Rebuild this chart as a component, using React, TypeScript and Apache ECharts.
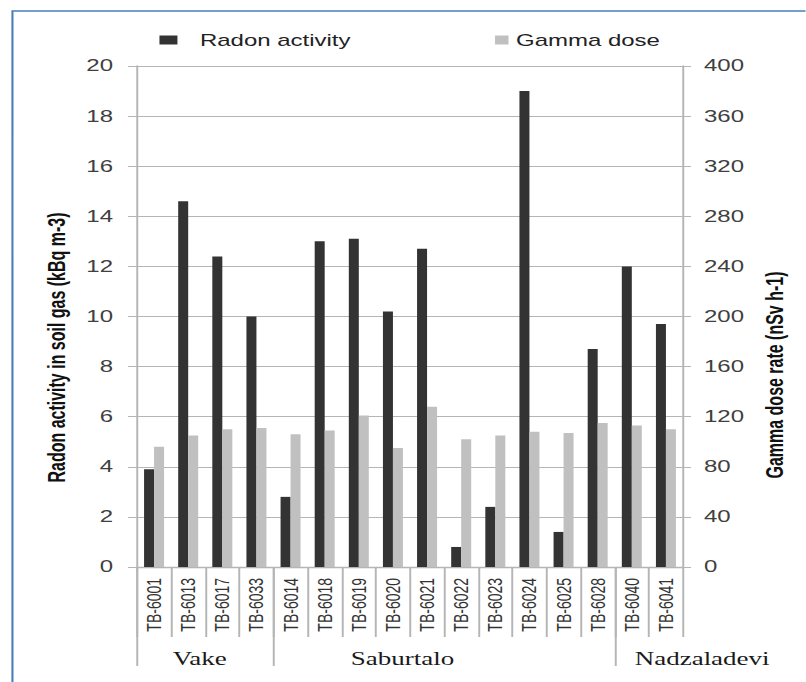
import React, { useEffect, useRef } from 'react';
import * as echarts from 'echarts';

// ---- data ----
const categories = [
  'TB-6001', 'TB-6013', 'TB-6017', 'TB-6033',
  'TB-6014', 'TB-6018', 'TB-6019', 'TB-6020', 'TB-6021', 'TB-6022', 'TB-6023', 'TB-6024', 'TB-6025', 'TB-6028',
  'TB-6040', 'TB-6041',
];
const radonActivity = [3.9, 14.6, 12.4, 10.0, 2.8, 13.0, 13.1, 10.2, 12.7, 0.8, 2.4, 19.0, 1.4, 8.7, 12.0, 9.7];
const gammaDose = [96, 105, 110, 111, 106, 109, 121, 95, 128, 102, 105, 108, 107, 115, 113, 110];
const groupNames = ['Vake', 'Saburtalo', 'Nadzaladevi'];
const groupSizes = [4, 10, 2];
const seriesNames = ['Radon activity', 'Gamma dose'];
const leftAxisTitle = 'Radon activity in soil gas (kBq m-3)';
const rightAxisTitle = 'Gamma dose rate (nSv h-1)';

// ---- layout ----
const SX = 1.5; // the reference is horizontally stretched
const W = 806 / SX;
const H = 682;
const FONT = '"Liberation Sans", Arial, sans-serif';
const SERIF = '"Liberation Serif", "Times New Roman", serif';
const GRAY = '#b5b5b5';
// horizontal nudge (internal px) of each group label from its group centre
const groupLabelShift = [-3.6, -27.8, 35.5];

export default function App() {
  const ref = useRef<HTMLDivElement>(null);

  useEffect(() => {
    const chart = echarts.init(ref.current!, null, { renderer: 'svg', width: W, height: H });

    const bounds: number[] = [];
    const centers: number[] = [];
    let acc = 0;
    groupSizes.forEach((s) => {
      bounds.push(acc);
      centers.push(acc + s / 2);
      acc += s;
    });

    const rich: any = {};
    groupLabelShift.forEach((d, i) => {
      rich['g' + i] = {
        fontSize: 18,
        fontFamily: SERIF,
        color: '#1a1a1a',
        padding: d >= 0 ? [0, 0, 0, 2 * d] : [0, -2 * d, 0, 0],
      };
    });

    const option: any = {
      animation: false,
      backgroundColor: '#ffffff',
      textStyle: { fontFamily: FONT },
      grid: { left: 137 / SX, right: W - 683 / SX, top: 66, bottom: H - 567, containLabel: false },
      legend: [
        {
          data: [seriesNames[0]],
          left: 101.3,
          top: 27,
          icon: 'rect',
          itemWidth: 12,
          itemHeight: 9,
          selectedMode: false,
          textStyle: { fontSize: 16, color: '#222', padding: [0, 0, 0, 10], fontFamily: FONT },
        },
        {
          data: [seriesNames[1]],
          left: 325,
          top: 27,
          icon: 'rect',
          itemWidth: 9,
          itemHeight: 9,
          selectedMode: false,
          textStyle: { fontSize: 16, color: '#222', fontFamily: FONT },
        },
      ],
      xAxis: [
        {
          type: 'category',
          data: categories,
          boundaryGap: true,
          axisLine: { show: true, lineStyle: { color: GRAY, width: 1.3 } },
          axisTick: { show: true, interval: 0, length: 70, alignWithLabel: false, lineStyle: { color: GRAY, width: 1.3 } },
          axisLabel: { interval: 0, rotate: 90, fontSize: 14, color: '#333', margin: 11, fontFamily: FONT },
          splitLine: { show: false },
        },
        {
          type: 'value',
          min: 0,
          max: acc,
          position: 'bottom',
          axisLine: { show: false },
          splitLine: { show: false },
          axisTick: { show: true, customValues: bounds, length: 99, lineStyle: { color: GRAY, width: 1.3 } },
          axisLabel: {
            customValues: centers,
            margin: 83,
            fontSize: 18,
            color: '#1a1a1a',
            fontFamily: SERIF,
            formatter: (v: number) => {
              const i = centers.findIndex((c) => Math.abs(c - v) < 1e-6);
              return i >= 0 ? `{g${i}|${groupNames[i]}}` : '';
            },
            rich,
          },
        },
      ],
      yAxis: [
        {
          type: 'value',
          min: 0,
          max: 20,
          interval: 2,
          position: 'left',
          axisLine: { show: true, lineStyle: { color: GRAY, width: 1.3 } },
          axisTick: { show: true, length: 6, lineStyle: { color: GRAY } },
          axisLabel: { fontSize: 16, color: '#404040', margin: 16, fontFamily: FONT },
          splitLine: { show: true, lineStyle: { color: GRAY, width: 1 } },
        },
        {
          type: 'value',
          min: 0,
          max: 400,
          interval: 40,
          position: 'right',
          axisLine: { show: true, lineStyle: { color: GRAY, width: 1.3 } },
          axisTick: { show: true, length: 5.3, lineStyle: { color: GRAY } },
          axisLabel: { fontSize: 16, color: '#404040', margin: 14, fontFamily: FONT },
          splitLine: { show: false },
        },
      ],
      series: [
        {
          name: seriesNames[0],
          type: 'bar',
          yAxisIndex: 0,
          xAxisIndex: 0,
          data: radonActivity,
          barWidth: 10 / SX,
          barGap: '0%',
          itemStyle: { color: '#333333' },
        },
        {
          name: seriesNames[1],
          type: 'bar',
          yAxisIndex: 1,
          xAxisIndex: 0,
          data: gammaDose,
          barWidth: 10 / SX,
          barGap: '0%',
          itemStyle: { color: '#c0c0c0' },
        },
      ],
      graphic: [
        {
          type: 'rect',
          silent: true,
          z: -1,
          shape: { x: 8.3, y: 11, width: 1000, height: 1000 },
          style: { fill: 'none', stroke: '#4a7ebb', lineWidth: 1.4 },
        },
        {
          type: 'text',
          x: 38,
          y: 347.5,
          rotation: Math.PI / 2,
          style: {
            text: leftAxisTitle,
            fontSize: 16,
            fontWeight: 'bold',
            fontFamily: FONT,
            fill: '#111',
            align: 'center',
            verticalAlign: 'middle',
          },
        },
        {
          type: 'text',
          x: 516.7,
          y: 375,
          rotation: Math.PI / 2,
          style: {
            text: rightAxisTitle,
            fontSize: 16,
            fontWeight: 'bold',
            fontFamily: FONT,
            fill: '#111',
            align: 'center',
            verticalAlign: 'middle',
          },
        },
      ],
    };

    chart.setOption(option);
    return () => chart.dispose();
  }, []);

  return (
    <div
      style={{
        position: 'absolute',
        left: 0,
        top: 0,
        width: 806,
        height: 682,
        overflow: 'hidden',
        background: '#fff',
      }}
    >
      <div
        ref={ref}
        style={{ width: W, height: H, transform: `scaleX(${SX})`, transformOrigin: '0 0' }}
      />
    </div>
  );
}
